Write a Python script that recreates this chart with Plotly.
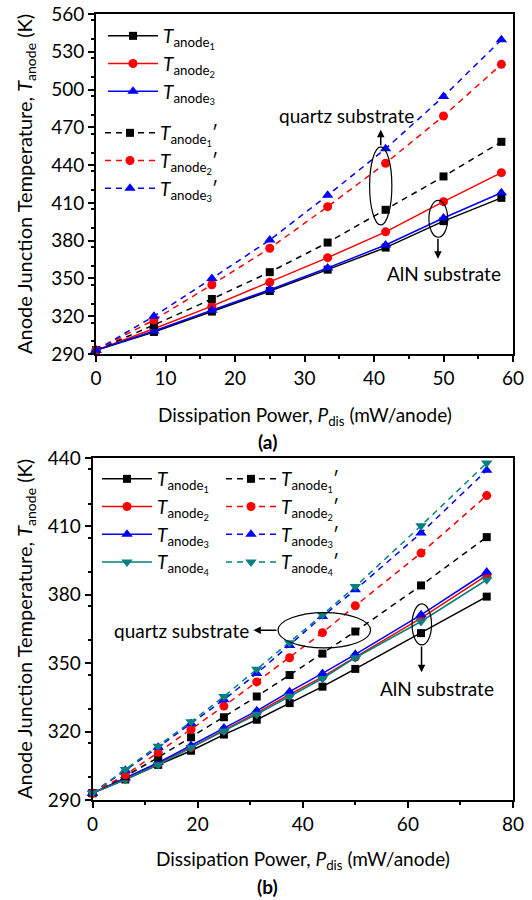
import plotly.graph_objects as go

# ---- panel (a): three anodes, AlN (solid) vs quartz (dashed) substrate ----
p_a = [0, 8.33, 16.67, 25, 33.33, 41.67, 50, 58.33]
a_t1 = [293, 307.5, 323.7, 340, 357, 374.5, 395.5, 414]
a_t2 = [293, 310, 328, 347, 366.5, 387, 411, 434]
a_t3 = [293, 308.2, 324.8, 341, 358.3, 376.6, 398, 418]
a_t1q = [293, 313, 333.7, 355, 378.5, 404.5, 431, 458.5]
a_t2q = [293, 317, 345, 374, 407, 441.5, 479, 520]
a_t3q = [293, 320, 350, 380.5, 416, 453, 494.5, 539.5]

# ---- panel (b): four anodes ----
p_b = [0, 6.25, 12.5, 18.75, 25, 31.25, 37.5, 43.75, 50, 62.5, 75]
b_t1 = [293, 299, 305.4, 311.6, 318.7, 325.2, 332.5, 339.7, 347.5, 363.2, 379.2]
b_t2 = [293, 299.4, 306, 313.1, 320.7, 328.2, 336.3, 344, 352.7, 369.8, 388.5]
b_t3 = [293, 299.6, 306.4, 313.9, 321.6, 329.1, 337.5, 345.5, 353.9, 371.2, 390]
b_t4 = [293, 299, 305.5, 313, 320.3, 327.6, 335.5, 343.3, 352.4, 368.3, 386.6]
b_t1q = [293, 300.4, 308.7, 317.5, 326.3, 335.4, 344.8, 354.2, 363.9, 384.1, 405.3]
b_t2q = [293, 301, 310.9, 321, 331.2, 341.8, 352.4, 363.4, 375.2, 398.3, 423.5]
b_t3q = [293, 303, 313.1, 323.6, 334, 345.5, 357.8, 370.5, 382.2, 407.1, 434.6]
b_t4q = [293, 303.4, 313.6, 324.3, 335.4, 347.3, 359, 371.2, 383.6, 410.3, 437.8]

a_ticks_x = [0, 10, 20, 30, 40, 50, 60]
a_ticks_y = [290, 320, 350, 380, 410, 440, 470, 500, 530, 560]
b_ticks_x = [0, 20, 40, 60, 80]
b_ticks_y = [290, 320, 350, 380, 410, 440]

FONT = "Lato"
W, H = 532, 900
BLACK, RED, BLUE, TEAL = "#000000", "#ff0000", "#0000ff", "#008080"
DASH = "6px,5px"


def lab(i, prime=False):
    s = "<i>T</i><sub>anode<sub>%d</sub></sub>" % i
    # a transparent prime keeps every legend row the same height
    if prime:
        return s + "\u2032"
    return s + "<span style='color:rgba(0,0,0,0)'>\u2032</span>"


def px(x):
    return x / W


def py(y):
    return 1 - y / H


fig = go.Figure()

styles = [(BLACK, "square", 8), (RED, "circle", 9), (BLUE, "triangle-up", 10), (TEAL, "triangle-down", 10)]


def add(xs, ys, k, prime, xa, ya, legend):
    color, sym, size = styles[k]
    fig.add_trace(go.Scatter(
        x=xs, y=ys, mode="lines+markers", name=lab(k + 1, prime),
        line=dict(color=color, width=1.5, dash=DASH if prime else "solid"),
        marker=dict(color=color, symbol=sym, size=size),
        xaxis=xa, yaxis=ya, legend=legend, cliponaxis=False,
    ))


for k, ys in enumerate([a_t1, a_t2, a_t3]):
    add(p_a, ys, k, False, "x", "y", "legend")
for k, ys in enumerate([a_t1q, a_t2q, a_t3q]):
    add(p_a, ys, k, True, "x", "y", "legend4")
for k, ys in enumerate([b_t1, b_t2, b_t3, b_t4]):
    add(p_b, ys, k, False, "x2", "y2", "legend2")
for k, ys in enumerate([b_t1q, b_t2q, b_t3q, b_t4q]):
    add(p_b, ys, k, True, "x2", "y2", "legend3")

axis_common = dict(
    showline=True, linecolor="black", linewidth=1.8, mirror=True,
    ticks="outside", ticklen=6, tickwidth=1.5, tickcolor="black",
    showgrid=False, zeroline=False, automargin=False,
    tickfont=dict(family=FONT, size=19, color="black"),
)

fig.update_layout(
    width=W, height=H, margin=dict(l=0, r=0, t=0, b=0, pad=0, autoexpand=False),
    plot_bgcolor="white", paper_bgcolor="white",
    font=dict(family=FONT, color="black"),
    xaxis=dict(domain=[px(96), px(513)], range=[0, 60], tickvals=a_ticks_x,
               minor=dict(dtick=5, ticks="outside", ticklen=3, tickcolor="black"),
               anchor="y", **axis_common),
    yaxis=dict(domain=[py(354), py(14)], range=[290, 560], tickvals=a_ticks_y,
               minor=dict(dtick=15, ticks="outside", ticklen=3, tickcolor="black"),
               anchor="x", **axis_common),
    xaxis2=dict(domain=[px(92.5), px(513)], range=[0, 80], tickvals=b_ticks_x,
                minor=dict(dtick=10, ticks="outside", ticklen=3, tickcolor="black"),
                anchor="y2", **axis_common),
    yaxis2=dict(domain=[py(800), py(458)], range=[290, 440], tickvals=b_ticks_y,
                minor=dict(dtick=15, ticks="outside", ticklen=3, tickcolor="black"),
                anchor="x2", **axis_common),
    showlegend=True,
)

leg_common = dict(bgcolor="rgba(0,0,0,0)", borderwidth=0, xanchor="left", yanchor="top",
                  font=dict(family=FONT, size=19, color="black"), itemwidth=50,
                  tracegroupgap=0)
fig.update_layout(
    legend=dict(x=px(103), y=py(17), **leg_common),
    legend4=dict(x=px(100), y=py(114), **leg_common),
    legend2=dict(x=px(97), y=py(460), **leg_common),
    legend3=dict(x=px(221), y=py(460), **leg_common),
)

ann_font = dict(family=FONT, size=19, color="black")

# axis titles
for yc in [(14 + 354) / 2, (458 + 800) / 2]:
    fig.add_annotation(text="Anode Junction Temperature, <i>T</i><sub>anode</sub> (K)",
                       xref="paper", yref="paper", x=px(25), y=py(yc), textangle=-90,
                       showarrow=False, font=dict(family=FONT, size=20, color="black"),
                       xanchor="center", yanchor="middle")
for yc, (l, r) in [(416, (96, 513)), (860, (92.5, 513))]:
    fig.add_annotation(text="Dissipation Power, <i>P</i><sub>dis</sub> (mW/anode)",
                       xref="paper", yref="paper", x=px((l + r) / 2), y=py(yc),
                       showarrow=False, font=ann_font, xanchor="center", yanchor="middle")
fig.add_annotation(text="<b>(a)</b>", xref="paper", yref="paper", x=px(267), y=py(441),
                   showarrow=False, font=ann_font)
fig.add_annotation(text="<b>(b)</b>", xref="paper", yref="paper", x=px(267), y=0,
                   yanchor="bottom", showarrow=False, font=ann_font)

# ---- panel (a) callouts ----
i_q = 5  # quartz group at p_a[5]
qa_lo, qa_hi = a_t1q[i_q] - 12, a_t3q[i_q] + 1.5
fig.add_shape(type="circle", xref="x", yref="y", x0=p_a[i_q] - 2.3, x1=p_a[i_q] + 0.9,
              y0=qa_lo, y1=qa_hi, line=dict(color="black", width=1.2))
q_tip = qa_hi + 13.5
fig.add_annotation(xref="x", yref="y", x=p_a[i_q] - 0.7, y=q_tip, ax=p_a[i_q] - 0.7,
                   ay=qa_hi, axref="x", ayref="y", text="", showarrow=True,
                   arrowhead=2, arrowsize=1, arrowwidth=1.5, arrowcolor="black")
fig.add_annotation(text="quartz substrate", xref="x", yref="y", x=36.1, y=q_tip + 1,
                   yanchor="bottom", showarrow=False, font=ann_font)

i_a = 6  # AlN group at p_a[6]
aa_lo, aa_hi = a_t1[i_a] - 12.8, a_t2[i_a] + 1
fig.add_shape(type="circle", xref="x", yref="y", x0=p_a[i_a] - 2.1, x1=p_a[i_a] + 0.6,
              y0=aa_lo, y1=aa_hi, line=dict(color="black", width=1.2))
a_tip = aa_lo - 17
fig.add_annotation(xref="x", yref="y", x=p_a[i_a] - 0.8, y=a_tip, ax=p_a[i_a] - 0.8,
                   ay=aa_lo, axref="x", ayref="y", text="", showarrow=True,
                   arrowhead=2, arrowsize=1, arrowwidth=1.5, arrowcolor="black")
fig.add_annotation(text="AlN substrate", xref="x", yref="y", x=50.1, y=a_tip - 1,
                   yanchor="top", showarrow=False, font=ann_font)

# ---- panel (b) callouts ----
bq_x0, bq_x1 = p_b[6] - 2.2, p_b[8] + 2.9
bq_y0, bq_y1 = b_t1q[7] + 2.5, b_t4q[7] + 1
fig.add_shape(type="circle", xref="x2", yref="y2", x0=bq_x0, x1=bq_x1, y0=bq_y0, y1=bq_y1,
              line=dict(color="black", width=1.2))
bq_mid = (bq_y0 + bq_y1) / 2
fig.add_annotation(xref="x2", yref="y2", x=bq_x0 - 4.7, y=bq_mid, ax=bq_x0, ay=bq_mid,
                   axref="x2", ayref="y2", text="", showarrow=True,
                   arrowhead=2, arrowsize=1, arrowwidth=1.5, arrowcolor="black")
fig.add_annotation(text="quartz substrate", xref="x2", yref="y2", x=bq_x0 - 5.1, y=bq_mid,
                   xanchor="right", yanchor="middle", showarrow=False, font=ann_font)

i_b = 9
ba_lo, ba_hi = b_t1[i_b] - 5.2, b_t3[i_b] + 4.8
fig.add_shape(type="circle", xref="x2", yref="y2", x0=p_b[i_b] - 1.7, x1=p_b[i_b] + 2.0,
              y0=ba_lo, y1=ba_hi, line=dict(color="black", width=1.2))
b_tip = ba_lo - 12
fig.add_annotation(xref="x2", yref="y2", x=p_b[i_b] + 0.1, y=b_tip, ax=p_b[i_b] + 0.1,
                   ay=ba_lo, axref="x2", ayref="y2", text="", showarrow=True,
                   arrowhead=2, arrowsize=1, arrowwidth=1.5, arrowcolor="black")
fig.add_annotation(text="AlN substrate", xref="x2", yref="y2", x=65.5, y=b_tip - 1,
                   yanchor="top", showarrow=False, font=ann_font)

fig.write_html("out.html")
